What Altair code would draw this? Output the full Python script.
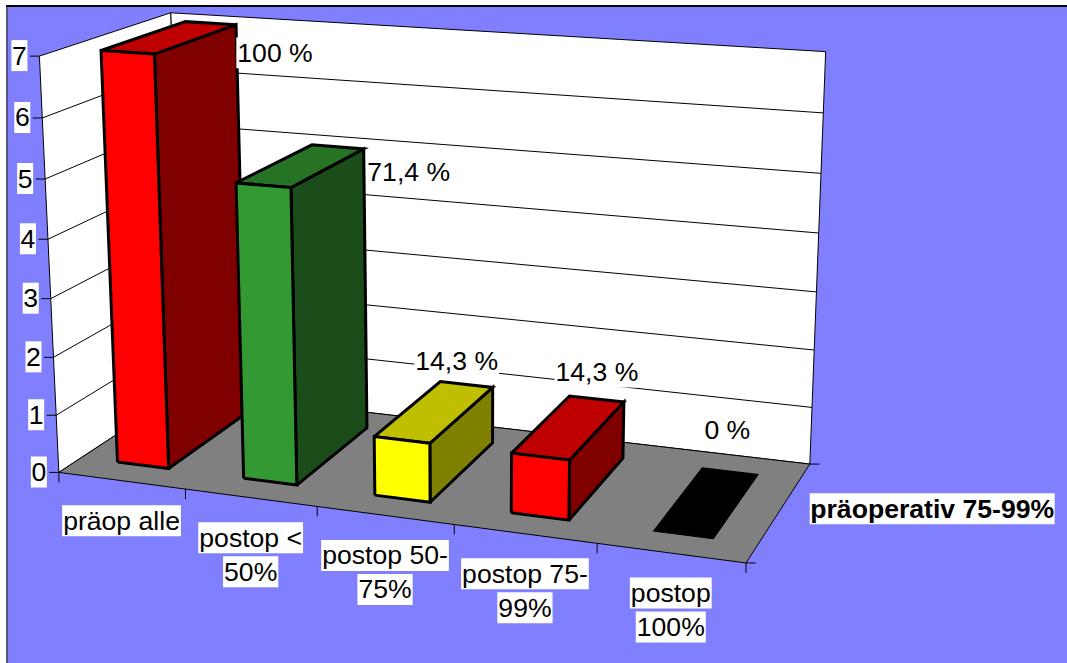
import altair as alt
import numpy as np
import pandas as pd

# Chart content
categories = [["präop alle"], ["postop <", "50%"], ["postop 50-", "75%"], ["postop 75-", "99%"], ["postop", "100%"]]
counts = [7, 5, 1, 1, 0]
percent_labels = ["100 %", "71,4 %", "14,3 %", "14,3 %", "0 %"]
value_ticks = [0, 1, 2, 3, 4, 5, 6, 7]
series_name = "präoperativ 75-99%"

# Face colours of each column: front, top, side
front_colors = ["#FF0000", "#339933", "#FFFF00", "#FF0000", "#000000"]
top_colors = ["#BF0000", "#267326", "#BFBF00", "#BF0000", "#000000"]
side_colors = ["#800000", "#1A4D1A", "#808000", "#800000", "#000000"]

WIDTH, HEIGHT = 1067, 663
FONT = "Liberation Sans"
FONT_SIZE = 26.6

# Pinhole camera of the 3D scene, solved from where the box corners land.
# Scene axes: u = category position, v = count, w = depth (0 front, 1 back).
calibration = [
    ((0, 0, 0), (58, 472)), ((1, 0, 0), (185, 489)), ((2, 0, 0), (317, 507)),
    ((3, 0, 0), (455, 525)), ((4, 0, 0), (597, 543)), ((5, 0, 0), (746, 562)),
    ((0, 0, 1), (185, 390)), ((5, 0, 1), (810, 465)),
    ((0, 7, 0), (40, 56)), ((0, 6, 0), (43, 118)), ((0, 5, 0), (46, 179)), ((0, 1, 0), (55, 416)),
    ((0, 7, 1), (169, 13)), ((5, 7, 1), (827, 52)), ((5, 6, 1), (823, 113)),
    ((5, 5, 1), (821, 173)), ((5, 4, 1), (818, 232)), ((5, 3, 1), (816, 292)),
    ((5, 2, 1), (814, 350)), ((5, 1, 1), (812, 408)),
]
rows = []
for (u, v, w), (sx, sy) in calibration:
    rows.append([u, v, w, 1, 0, 0, 0, 0, -sx * u, -sx * v, -sx * w, -sx])
    rows.append([0, 0, 0, 0, u, v, w, 1, -sy * u, -sy * v, -sy * w, -sy])
camera = np.linalg.svd(np.array(rows, dtype=float))[2][-1].reshape(3, 4)


def project(u, v, w):
    sx, sy, s = camera @ np.array([u, v, w, 1.0])
    return float(sx / s), float(sy / s)


# Column footprint inside each category cell
BAR_U = (0.29, 0.70)
BAR_W = (0.17, 0.83)

# Offsets of the percent labels from each column's rear top corner
label_offsets = [(39, 28), (45, 23), (-36, -26), (-27, -30), (-31, -44)]

# Arial-style advance widths, for sizing the white boxes behind the labels
CHAR_EM = {"p": .556, "r": .333, "ä": .556, "o": .556, " ": .278, "a": .556, "l": .222, "e": .556,
           "s": .5, "t": .278, "<": .584, "%": .889, "-": .333, ",": .278}


def text_width(text):
    return sum(CHAR_EM.get(c, .556) for c in text) * FONT_SIZE


path_rows = []


def path(points, fill="transparent", stroke_width=1.0, closed=True):
    pid = len({r["pid"] for r in path_rows})
    seq_points = list(points) + ([points[0]] if closed else [])
    for seq, (u, v, w) in enumerate(seq_points):
        x, y = project(u, v, w)
        path_rows.append({"pid": f"p{pid:03d}", "seq": seq, "x": x, "y": y, "fill": fill, "sw": stroke_width})


# Walls
path([(0, 0, 0), (0, 7, 0), (0, 7, 1), (0, 0, 1)], "#FFFFFF")
path([(0, 0, 1), (0, 7, 1), (5, 7, 1), (5, 0, 1)], "#FFFFFF")
for v in value_ticks[1:-1]:
    path([(0, v, 0), (0, v, 1), (5, v, 1)], closed=False)
# Floor
path([(0, 0, 0), (5, 0, 0), (5, 0, 1), (0, 0, 1)], "#808080")

# Columns, drawn from left to right so nearer ones overlap
for i, n in enumerate(counts):
    u0, u1 = i + BAR_U[0], i + BAR_U[1]
    w0, w1 = BAR_W
    if n == 0:
        path([(u0, 0, w0), (u1, 0, w0), (u1, 0, w1), (u0, 0, w1)], top_colors[i])
        continue
    path([(u1, 0, w0), (u1, n, w0), (u1, n, w1), (u1, 0, w1)], side_colors[i], 3)
    path([(u0, n, w0), (u1, n, w0), (u1, n, w1), (u0, n, w1)], top_colors[i], 3)
    path([(u0, 0, w0), (u1, 0, w0), (u1, n, w0), (u0, n, w0)], front_colors[i], 3)

polygons = pd.DataFrame(path_rows)

# Short tick marks hanging off the box
tick_rows = []
for v in value_ticks:
    x, y = project(0, v, 0)
    tick_rows.append({"x": x - 9.5, "x2": x, "y": y, "y2": y})
for i in range(len(categories) + 1):
    x, y = project(i, 0, 0)
    tick_rows.append({"x": x, "x2": x, "y": y, "y2": y + 10})
for w in (0, 1):
    x, y = project(5, 0, w)
    tick_rows.append({"x": x, "x2": x + 9.5, "y": y, "y2": y})
ticks = pd.DataFrame(tick_rows)

# Text, each line with its white box
LINE_BOX = 31
LINE_STEP = 34
text_rows = []


def add_text(text, cx, cy, pad=2.0, box_width=None):
    width = box_width if box_width is not None else text_width(text) + pad
    text_rows.append({"text": text, "cx": cx, "cy": cy,
                      "x": cx - width / 2, "x2": cx + width / 2,
                      "y": cy - LINE_BOX / 2, "y2": cy + LINE_BOX / 2})


for v in value_ticks:
    x, y = project(0, v, 0)
    add_text(str(v), x - 20, y - 0.5, box_width=16)
for i, lines in enumerate(categories):
    x, y = project(i + 0.5, 0, 0)
    for k, line in enumerate(lines):
        add_text(line, x, y + 24.5 + LINE_BOX / 2 + k * LINE_STEP)
for i, (label, (dx, dy)) in enumerate(zip(percent_labels, label_offsets)):
    x, y = project(i + BAR_U[1], counts[i], BAR_W[1])
    add_text(label, x + dx, y + dy)
labels = pd.DataFrame(text_rows)

x, y = project(5, 0, 0.5)
add_text(series_name, x + 152.5, y - 2, box_width=245)
series_label = pd.DataFrame(text_rows[-1:])
all_boxes = pd.DataFrame(text_rows)

x_scale = alt.Scale(domain=[0, WIDTH], range=[0, WIDTH])
y_scale = alt.Scale(domain=[0, HEIGHT], range=[0, HEIGHT])
X = alt.X("x:Q", scale=x_scale, axis=None)
Y = alt.Y("y:Q", scale=y_scale, axis=None)
TX = alt.X("cx:Q", scale=x_scale, axis=None)
TY = alt.Y("cy:Q", scale=y_scale, axis=None)

panel = alt.Chart(pd.DataFrame({"x": [7], "x2": [WIDTH], "y": [6], "y2": [HEIGHT]})).mark_rect(
    fill="#8080FF"
).encode(x=X, x2="x2:Q", y=Y, y2="y2:Q")

# The panel's border only shows along its top and left edges
top_edge = alt.Chart(pd.DataFrame({"x": [6], "x2": [WIDTH], "y": [6], "y2": [6]})).mark_rule(
    color="#000000", strokeWidth=2
).encode(x=X, x2="x2:Q", y=Y, y2="y2:Q")
left_edge = alt.Chart(pd.DataFrame({"x": [7], "x2": [7], "y": [6], "y2": [HEIGHT]})).mark_rule(
    color="#55557F", strokeWidth=2
).encode(x=X, x2="x2:Q", y=Y, y2="y2:Q")

faces = alt.Chart(polygons).mark_line(stroke="#000000", strokeJoin="miter", strokeCap="butt").encode(
    x=X, y=Y,
    order="seq:Q",
    detail="pid:N",
    fill=alt.Fill("fill:N", scale=None),
    strokeWidth=alt.StrokeWidth("sw:Q", scale=None),
)

tick_marks = alt.Chart(ticks).mark_rule(color="#000000", strokeWidth=1).encode(
    x=X, x2="x2:Q", y=Y, y2="y2:Q"
)

boxes = alt.Chart(all_boxes).mark_rect(fill="#FFFFFF").encode(x=X, x2="x2:Q", y=Y, y2="y2:Q")

texts = alt.Chart(labels).mark_text(
    font=FONT, fontSize=FONT_SIZE, color="#000000", align="center", baseline="middle", dy=1
).encode(x=TX, y=TY, text="text:N")

series_text = alt.Chart(series_label).mark_text(
    font=FONT, fontSize=FONT_SIZE, fontWeight="bold", color="#000000", align="center", baseline="middle", dy=1
).encode(x=TX, y=TY, text="text:N")

chart = alt.layer(panel, left_edge, top_edge, faces, tick_marks, boxes, texts, series_text).properties(
    width=WIDTH, height=HEIGHT, padding=0, autosize=alt.AutoSizeParams(type="none"),
    background="#FFFFFF",
).configure_view(stroke=None)

chart.save("out.html", embed_options={"renderer": "svg", "actions": False})
